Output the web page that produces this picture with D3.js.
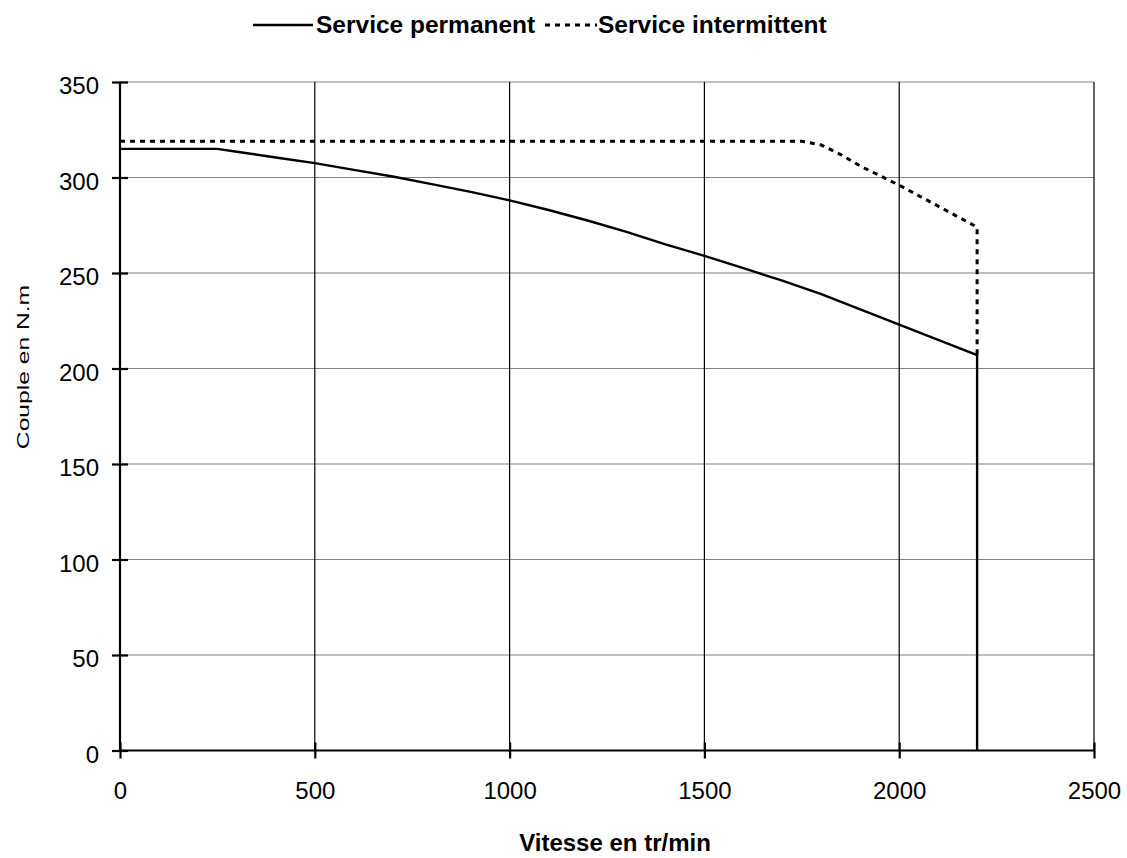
<!DOCTYPE html>
<html>
<head>
<meta charset="utf-8">
<script src="https://cdn.jsdelivr.net/npm/d3@7"></script>
<style>
  html, body { margin: 0; padding: 0; background: #fff; }
  svg { display: block; font-family: "Liberation Sans", Arial, Helvetica, sans-serif; }
</style>
</head>
<body>
<svg id="chart" width="1127" height="858"></svg>
<script>
// ---- Data ----
const xTicks = [0, 500, 1000, 1500, 2000, 2500];
const yTicks = [0, 50, 100, 150, 200, 250, 300, 350];

const permanentSpeed  = [0, 250, 300, 400, 500, 600, 700, 800, 900, 1000, 1100, 1200, 1300, 1400, 1500, 1600, 1700, 1800, 1900, 2000, 2100, 2200, 2200];
const permanentTorque = [315, 315, 313.5, 310.5, 307.5, 304, 300.5, 296.5, 292.5, 288, 283, 277.5, 271.5, 265, 259, 252.5, 246, 239, 231, 223, 215, 207, 0];

const intermittentSpeed  = [0, 1750, 1800, 1850, 1900, 2000, 2100, 2200, 2200];
const intermittentTorque = [319, 319, 317, 312, 306, 296, 285, 274, 207];

const seriesNames = ["Service permanent", "Service intermittent"];
const xTitle = "Vitesse en tr/min";
const yTitle = "Couple en N.m";

// ---- Layout ----
const svg = d3.select("#chart");
const x = d3.scaleLinear().domain([0, 2500]).range([120, 1094]);
const y = d3.scaleLinear().domain([0, 350]).range([750.5, 82]);

// Grid lines
svg.append("g").selectAll("line").data(yTicks.filter(d => d > 0)).join("line")
  .attr("x1", x(0)).attr("x2", x(2500))
  .attr("y1", d => y(d)).attr("y2", d => y(d))
  .attr("stroke", "#808080").attr("stroke-width", 1.2);

svg.append("g").selectAll("line").data(xTicks.filter(d => d > 0)).join("line")
  .attr("x1", d => x(d)).attr("x2", d => x(d))
  .attr("y1", y(0)).attr("y2", y(350))
  .attr("stroke", "#000").attr("stroke-width", 1.2);

// Axes
const xAxis = d3.axisBottom(x).tickValues(xTicks).tickSize(8).tickFormat(d3.format("d"));
const yAxis = d3.axisLeft(y).tickValues(yTicks).tickSize(8).tickFormat(d3.format("d"));

const gx = svg.append("g").attr("transform", `translate(0,${y(0)})`).call(xAxis);
gx.select(".domain").attr("d", `M${x(0)},0H${x(2500)}`).attr("stroke", "#000").attr("stroke-width", 2.2);
gx.selectAll(".tick line").attr("y1", -8).attr("y2", 8).attr("stroke-width", 2.2);
gx.selectAll(".tick text").attr("y", 48.5).attr("dy", 0).attr("font-size", 24).attr("fill", "#000")
  .attr("font-family", "'Liberation Sans', Arial, sans-serif");

const gy = svg.append("g").attr("transform", `translate(${x(0)},0)`).call(yAxis);
gy.select(".domain").attr("d", `M0,${y(350)}V${y(0)}`).attr("stroke", "#000").attr("stroke-width", 2.2);
gy.selectAll(".tick line").attr("x1", -8).attr("x2", 8).attr("stroke-width", 2.2);
gy.selectAll(".tick text").attr("x", -21).attr("dy", "0.36em").attr("y", 3).attr("font-size", 24).attr("fill", "#000")
  .attr("font-family", "'Liberation Sans', Arial, sans-serif");

// Lines
const line = d3.line().x(d => x(d[0])).y(d => y(d[1]));
const permanent = permanentSpeed.map((s, i) => [s, permanentTorque[i]]);
const intermittent = intermittentSpeed.map((s, i) => [s, intermittentTorque[i]]);

svg.append("path").datum(intermittent).attr("d", line)
  .attr("fill", "none").attr("stroke", "#000").attr("stroke-width", 3)
  .attr("stroke-dasharray", "5,5");

svg.append("path").datum(permanent).attr("d", line)
  .attr("fill", "none").attr("stroke", "#000").attr("stroke-width", 2.4);

// Legend
const lg = svg.append("g");
lg.append("line").attr("x1", 253).attr("x2", 313).attr("y1", 25).attr("y2", 25)
  .attr("stroke", "#000").attr("stroke-width", 2.4);
lg.append("text").attr("x", 316).attr("y", 33).attr("font-size", 24.5).attr("font-weight", "bold")
  .text(seriesNames[0]);
lg.append("line").attr("x1", 545).attr("x2", 597).attr("y1", 25).attr("y2", 25)
  .attr("stroke", "#000").attr("stroke-width", 3).attr("stroke-dasharray", "5,5");
lg.append("text").attr("x", 598).attr("y", 33).attr("font-size", 24.5).attr("font-weight", "bold")
  .text(seriesNames[1]);

// Axis titles
svg.append("text").attr("x", 615).attr("y", 851).attr("text-anchor", "middle")
  .attr("font-size", 24).attr("font-weight", "bold").text(xTitle);
svg.append("text").attr("transform", "translate(29,367) rotate(-90) scale(1.45,1)").attr("text-anchor", "middle")
  .attr("font-size", 17).text(yTitle);
</script>
</body>
</html>
